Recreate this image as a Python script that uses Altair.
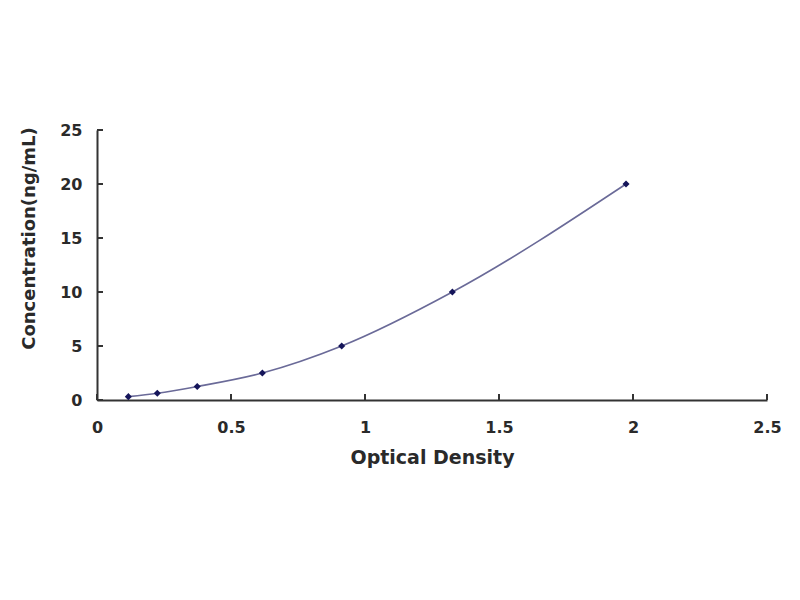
import altair as alt
import pandas as pd

od = [0.117, 0.225, 0.374, 0.617, 0.913, 1.326, 1.974]
conc = [0.312, 0.625, 1.25, 2.5, 5, 10, 20]
x_ticks = [0, 0.5, 1, 1.5, 2, 2.5]
y_ticks = [0, 5, 10, 15, 20, 25]

df = pd.DataFrame({"od": od, "conc": conc})
xt = pd.DataFrame({"v": x_ticks})
yt = pd.DataFrame({"v": y_ticks})

FONT = "DejaVu Sans"
TXT = "#2a2a2a"
xscale = alt.Scale(domain=[0, 2.5], nice=False)
yscale = alt.Scale(domain=[0, 25], nice=False)

xaxis = alt.Axis(values=x_ticks, format="~g", ticks=False, tickSize=0, grid=False,
                 domainColor="#333333", domainWidth=2, labelFont=FONT, labelFontSize=16,
                 labelFontWeight="bold", labelColor=TXT, labelPadding=19,
                 title="Optical Density", titleFont=FONT, titleFontSize=19,
                 titleFontWeight="bold", titleColor=TXT, titlePadding=13, labelFlush=False)
yaxis = alt.Axis(values=y_ticks, format="~g", ticks=False, tickSize=0, grid=False,
                 domainColor="#333333", domainWidth=2, labelFont=FONT, labelFontSize=16,
                 labelFontWeight="bold", labelColor=TXT, labelPadding=15,
                 title="Concentration(ng/mL)", titleFont=FONT, titleFontSize=18,
                 titleFontWeight="bold", titleColor=TXT, titlePadding=21, titleY=108,
                 labelFlush=False)

line = alt.Chart(df).mark_line(interpolate="monotone", color="#6a6a98", strokeWidth=1.6).encode(
    x=alt.X("od:Q", scale=xscale, axis=xaxis),
    y=alt.Y("conc:Q", scale=yscale, axis=yaxis),
)
pts = alt.Chart(df).mark_point(shape="diamond", filled=True, size=50, color="#15155a", opacity=1).encode(
    x=alt.X("od:Q", scale=xscale),
    y=alt.Y("conc:Q", scale=yscale),
)
xtk = alt.Chart(xt).mark_rule(color="#333333", strokeWidth=2).encode(
    x=alt.X("v:Q", scale=xscale),
    y=alt.value(270), y2=alt.value(264),
)
ytk = alt.Chart(yt).mark_rule(color="#333333", strokeWidth=2).encode(
    y=alt.Y("v:Q", scale=yscale),
    x=alt.value(0), x2=alt.value(6),
)

chart = alt.layer(line, xtk, ytk, pts).properties(
    width=670, height=270,
    autosize=alt.AutoSizeParams(type="none"),
    padding={"left": 89, "top": 122, "right": 25, "bottom": 190},
    background="white",
).configure_view(stroke=None)

chart.save("out.html", embed_options={"renderer": "svg", "actions": False})
